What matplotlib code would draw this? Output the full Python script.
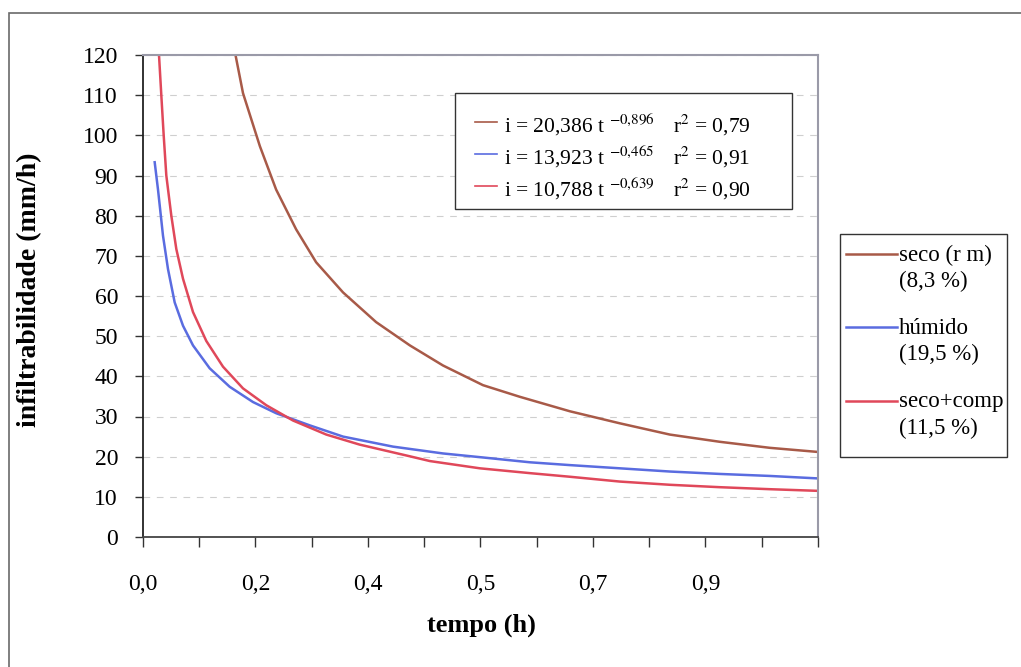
import matplotlib
matplotlib.use("Agg")
import matplotlib.pyplot as plt
from matplotlib.lines import Line2D
from matplotlib.patches import Rectangle

plt.rcParams['font.family'] = ['Liberation Serif', 'DejaVu Serif']
plt.rcParams['mathtext.fontset'] = 'stix'

# ---------------- data ----------------
t_seco = [0.148, 0.160, 0.187, 0.213, 0.245, 0.277, 0.320, 0.373, 0.427,
          0.480, 0.544, 0.603, 0.683, 0.763, 0.843, 0.923, 1.003, 1.078]
i_seco = [120, 110.5, 97.3, 86.5, 76.6, 68.4, 60.9, 53.5, 47.7,
          42.7, 37.8, 34.9, 31.3, 28.3, 25.5, 23.7, 22.2, 21.2]

t_humido = [0.0187, 0.024, 0.032, 0.040, 0.0507, 0.064, 0.080, 0.1067, 0.1387,
            0.176, 0.2133, 0.2667, 0.320, 0.400, 0.480, 0.544, 0.619, 0.683,
            0.763, 0.843, 0.923, 1.003, 1.078]
i_humido = [93.3, 86.5, 75.0, 66.7, 58.4, 52.6, 47.7, 42.0, 37.4,
            33.6, 30.8, 27.8, 25.0, 22.5, 20.8, 19.8, 18.6, 17.9,
            17.1, 16.3, 15.7, 15.2, 14.6]

t_comp = [0.0256, 0.0293, 0.0331, 0.0373, 0.0453, 0.0533, 0.064, 0.080, 0.1013,
          0.128, 0.160, 0.1973, 0.240, 0.2933, 0.3467, 0.4267, 0.4592, 0.539,
          0.619, 0.683, 0.763, 0.843, 0.923, 1.003, 1.078]
i_comp = [120, 110, 100, 90, 80, 71.7, 64.3, 56.0, 48.8,
          42.4, 37.0, 32.8, 29.0, 25.5, 23.0, 20.1, 18.9, 17.1,
          15.9, 15.0, 13.8, 13.0, 12.4, 11.9, 11.5]

series_names = ["seco (r m)\n(8,3 %)", "húmido\n(19,5 %)", "seco+comp\n(11,5 %)"]
equations = [r"i = 20,386 t $^{-0{,}896}$", r"i = 13,923 t $^{-0{,}465}$", r"i = 10,788 t $^{-0{,}639}$"]
r2_texts = [r"r$^{2}$ = 0,79", r"r$^{2}$ = 0,91", r"r$^{2}$ = 0,90"]

x_tick_pos = [0.0, 0.09, 0.18, 0.27, 0.36, 0.45, 0.54, 0.63, 0.72, 0.81, 0.90, 0.99, 1.08]
x_tick_labels = ["0,0", "", "0,2", "", "0,4", "", "0,5", "", "0,7", "", "0,9", "", ""]
y_ticks = [0, 10, 20, 30, 40, 50, 60, 70, 80, 90, 100, 110, 120]

colors = ["#A85A48", "#5A6CE0", "#E0485A"]

# ---------------- figure ----------------
W, H = 1021, 667
fig = plt.figure(figsize=(W / 100, H / 100), dpi=100)
fig.patch.set_facecolor("white")

def fx(px):
    return px / W

def fy(py):
    return 1 - py / H

# outer chart border
fig.patches.append(Rectangle((fx(9), fy(700)), fx(1030) - fx(9), fy(13) - fy(700),
                             transform=fig.transFigure, fill=False,
                             edgecolor="#6a6a6a", linewidth=1.2))

ax = fig.add_axes([fx(143), fy(537), fx(818) - fx(143), fy(55) - fy(537)])
ax.set_xlim(0, 1.08)
ax.set_ylim(0, 120)

for xs, ys, c in zip([t_seco, t_humido, t_comp], [i_seco, i_humido, i_comp], colors):
    ax.plot(xs, ys, color=c, linewidth=1.8, solid_joinstyle="round", clip_on=True)

ax.set_yticks(y_ticks)
ax.set_yticklabels([str(v) for v in y_ticks], fontsize=17)
ax.set_xticks(x_tick_pos)
ax.set_xticklabels(x_tick_labels, fontsize=17)
ax.tick_params(axis="x", direction="out", length=7, width=1, pad=20, color="#333333")
ax.tick_params(axis="y", direction="out", length=6, width=1, pad=12, color="#333333")

ax.yaxis.grid(True, linestyle=(0, (6, 6)), color="#cfcfcf", linewidth=0.8)
ax.set_axisbelow(True)
ax.spines["left"].set_color("#222222")
ax.spines["bottom"].set_color("#444444")
ax.spines["left"].set_linewidth(1.3)
ax.spines["bottom"].set_linewidth(1.3)
ax.spines["top"].set_color("#9a9aa8")
ax.spines["right"].set_color("#9a9aa8")
ax.spines["top"].set_linewidth(1.5)
ax.spines["right"].set_linewidth(1.5)

fig.text(fx(30), fy(290), "infiltrabilidade (mm/h)", rotation=90, ha="center",
         va="center", fontsize=20, fontweight="bold")
fig.text(fx(481), fy(625), "tempo (h)", ha="center", va="center",
         fontsize=19, fontweight="bold")

# equation legend box
fig.patches.append(Rectangle((fx(455), fy(209)), fx(792) - fx(455), fy(93) - fy(209),
                             transform=fig.transFigure, facecolor="white",
                             edgecolor="#333333", linewidth=1.0, zorder=5))
for k, (eq, r2, c) in enumerate(zip(equations, r2_texts, colors)):
    yy = [122, 154, 186][k]
    fig.lines.append(Line2D([fx(475), fx(497)], [fy(yy), fy(yy)], color=c,
                            linewidth=1.2, transform=fig.transFigure, zorder=6))
    fig.text(fx(504), fy(yy + 3), eq, ha="left", va="center", fontsize=15.5, zorder=6)
    fig.text(fx(673), fy(yy + 3), r2, ha="left", va="center", fontsize=15.5, zorder=6)

# series legend box
fig.patches.append(Rectangle((fx(840), fy(457)), fx(1007) - fx(840), fy(234) - fy(457),
                             transform=fig.transFigure, facecolor="white",
                             edgecolor="#333333", linewidth=1.0, zorder=5))
for k, (name, c) in enumerate(zip(series_names, colors)):
    yy = [254, 327, 401][k]
    fig.lines.append(Line2D([fx(846), fx(897)], [fy(yy), fy(yy)], color=c,
                            linewidth=1.8, transform=fig.transFigure, zorder=6))
    l1, l2 = name.split("\n")
    fig.text(fx(899), fy(yy + 1), l1, ha="left", va="center", fontsize=16.5, zorder=6)
    fig.text(fx(899), fy(yy + 27), l2, ha="left", va="center", fontsize=16.5, zorder=6)

fig.savefig("out.png", dpi=100)
